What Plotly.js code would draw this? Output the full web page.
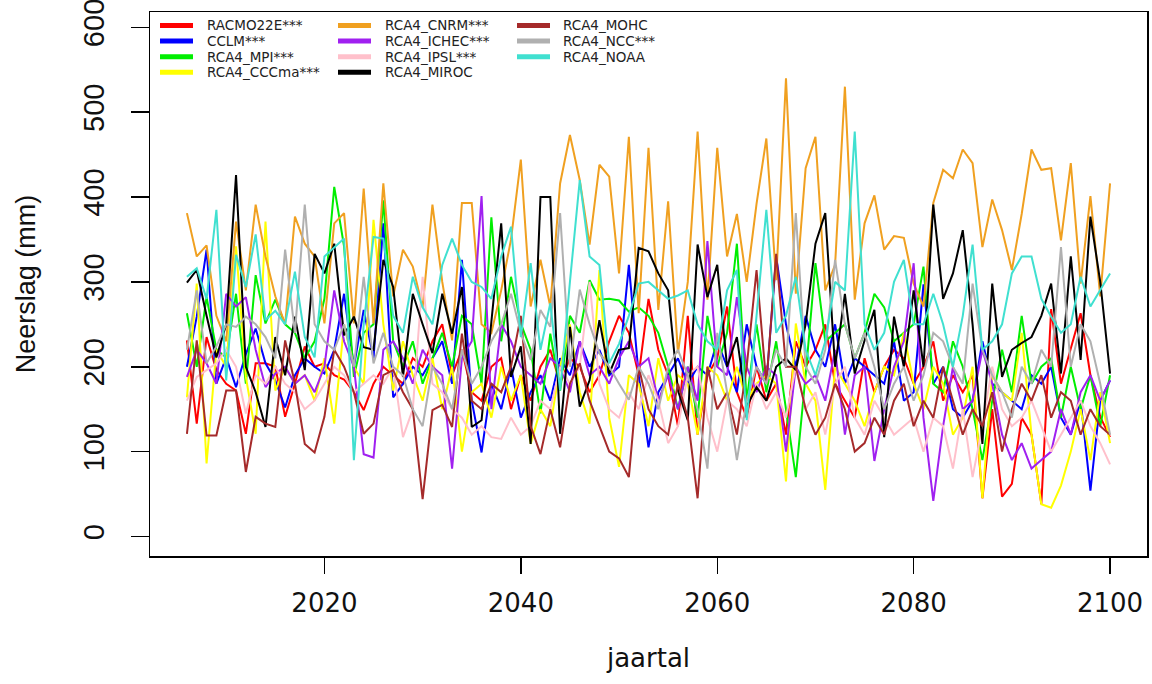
<!DOCTYPE html>
<html>
<head>
<meta charset="utf-8">
<script src="https://cdn.plot.ly/plotly-3.0.1.min.js"></script>
<style>html,body{margin:0;padding:0;background:#fff;}#chart{width:1152px;height:684px;}</style>
</head>
<body>
<div id="chart"></div>
<script>
const years = [2006,2007,2008,2009,2010,2011,2012,2013,2014,2015,2016,2017,2018,2019,2020,2021,2022,2023,2024,2025,
2026,2027,2028,2029,2030,2031,2032,2033,2034,2035,2036,2037,2038,2039,2040,2041,2042,2043,2044,2045,
2046,2047,2048,2049,2050,2051,2052,2053,2054,2055,2056,2057,2058,2059,2060,2061,2062,2063,2064,2065,
2066,2067,2068,2069,2070,2071,2072,2073,2074,2075,2076,2077,2078,2079,2080,2081,2082,2083,2084,2085,
2086,2087,2088,2089,2090,2091,2092,2093,2094,2095,2096,2097,2098,2099,2100];

const seriesNames = ["RACMO22E***","CCLM***","RCA4_MPI***","RCA4_CCCma***","RCA4_CNRM***","RCA4_ICHEC***","RCA4_IPSL***","RCA4_MIROC","RCA4_MOHC","RCA4_NCC***","RCA4_NOAA"];
const seriesColors = ["#FF0000","#0000FF","#00EE00","#FFFF00","#F0A020","#A020F0","#FFC0CB","#000000","#A52A2A","#B0B0B0","#40E0D0"];

const racmo = [231,133,235,196,180,172,121,204,204,200, 141,180,224,200,204,190,185,170,149,180,
200,190,180,210,200,230,250,190,220,170, 160,200,210,150,190,160,200,220,180,210,
200,170,190,230,260,240,190,280,220,190, 130,260,120,190,210,271,170,140,200,160,
180,120,230,200,220,250,180,160,140,210, 170,200,220,210,180,200,230,160,190,170,
190,45,150,47,62,140,120,38,268,180, 223,263,190,141,117];
const cclm = [200,259,338,180,211,176,215,245,204,184, 152,190,210,200,192,220,286,200,267,210,
369,164,180,200,190,210,230,180,326,160, 99,180,150,200,140,170,190,160,210,190,
230,200,220,190,200,320,190,105,170,190, 210,180,200,190,230,200,170,250,200,180,
330,250,200,260,220,200,250,180,210,200, 190,180,230,160,170,297,180,200,150,140,
160,230,180,170,160,150,190,180,200,140, 120,160,54,160,184];
const mpi = [263,200,282,220,211,286,180,308,251,279, 250,240,210,230,280,412,342,188,240,250,
396,230,200,230,180,210,240,200,260,250, 180,376,230,306,251,220,145,239,172,260,
240,302,279,280,278,265,270,260,240,200, 150,200,140,260,200,240,345,160,250,170,
230,150,70,190,322,230,240,250,210,240, 286,270,230,240,250,318,180,170,230,200,
150,90,160,220,170,260,180,200,210,140, 200,150,190,130,190];
const cccma = [164,298,86,220,200,342,188,121,371,172, 200,180,190,160,210,133,250,200,180,373,
250,172,230,190,160,210,150,200,100,170, 180,140,200,160,190,109,150,130,200,250,
170,133,314,140,82,190,180,130,210,160, 190,180,120,200,190,160,200,160,180,190,
180,65,251,180,160,55,200,180,160,130, 170,200,190,240,180,150,200,180,120,140,
200,45,190,170,160,240,120,38,34,60, 100,150,90,170,110];
const cnrm = [381,330,343,260,230,371,290,391,330,283, 250,377,345,330,251,369,381,251,410,251,
416,283,338,318,270,391,300,231,393,393, 250,240,290,350,444,271,326,271,416,473,
420,344,438,424,310,471,263,458,267,395, 216,300,477,279,458,330,380,300,392,469,
302,540,286,434,471,290,320,530,279,369, 402,338,354,352,298,271,393,432,422,456,
440,341,397,361,314,380,456,432,434,349, 440,298,401,283,416];
const ichec = [188,220,204,180,286,271,282,220,176,192, 200,180,190,170,200,290,230,200,97,93,
220,230,210,180,220,200,190,80,210,230, 401,150,250,230,200,190,180,210,200,170,
230,190,200,180,210,230,200,210,160,190, 150,200,160,348,200,190,282,200,170,200,
190,100,200,180,190,160,220,120,190,200, 89,150,200,230,322,140,42,130,200,150,
160,220,180,120,90,110,80,90,100,150, 120,170,190,160,184];
const ipsl = [160,188,196,204,220,200,145,190,180,200, 180,170,150,160,180,200,190,170,180,190,
180,200,117,150,306,180,170,150,140,120, 130,117,115,140,120,130,160,150,200,180,
200,300,180,150,140,170,150,190,160,110, 130,190,200,140,100,160,150,130,180,150,
170,140,200,150,170,120,180,200,140,120, 160,140,120,130,140,100,140,130,80,150,
70,130,200,150,130,140,160,130,100,120, 140,160,130,110,85];
const miroc = [299,314,260,211,250,426,200,170,129,235, 190,259,196,333,310,345,237,259,223,220,
326,294,188,286,250,216,286,239,294,129, 137,250,369,188,224,109,400,400,121,247,
153,184,255,192,220,222,340,336,310,290, 172,137,344,282,320,200,235,153,176,160,
200,210,196,250,345,381,200,286,192,231, 267,117,259,200,290,200,391,280,310,361,
250,109,298,188,220,228,235,260,298,192, 330,208,377,300,192];
const mohc = [121,231,119,119,172,172,76,141,133,129, 231,180,109,99,141,220,200,170,121,133,
190,196,170,150,44,149,155,129,239,160, 150,180,170,200,260,130,97,150,105,180,
204,160,130,100,92,70,200,150,130,120, 180,140,45,200,150,170,120,200,314,180,
333,200,200,150,120,140,180,150,100,110, 140,120,160,180,130,160,140,200,160,120,
150,130,170,100,150,180,160,190,140,170, 160,120,150,130,120];
const ncc = [220,290,204,224,250,247,259,250,235,210, 338,240,391,250,230,220,250,200,306,204,
240,200,190,150,130,200,180,150,220,180, 200,230,250,286,240,208,267,247,381,200,
291,250,216,200,180,161,200,180,150,200, 220,190,150,80,240,170,90,160,200,180,
220,200,381,200,180,220,326,250,210,240, 200,150,180,200,160,190,240,230,200,180,
298,220,190,170,140,200,180,220,200,341, 200,250,230,180,120];
const noaa = [306,316,280,385,184,332,294,356,255,266, 250,312,235,211,330,340,351,90,250,353,
351,260,240,306,270,250,320,351,320,300, 294,280,330,365,235,322,220,275,172,300,
420,330,320,204,227,260,298,300,290,280, 284,290,250,230,220,290,314,137,260,385,
240,260,306,220,190,230,300,290,477,250, 220,240,300,326,250,250,286,250,200,260,
344,220,230,250,310,330,330,280,259,240, 250,306,271,290,310];

const seriesValues = [racmo,cclm,mpi,cccma,cnrm,ichec,ipsl,miroc,mohc,ncc,noaa];
const yTicks = [0,100,200,300,400,500,600];
const xTicks = [2020,2040,2060,2080,2100];

const traces = seriesValues.map((vals,i)=>({
  x: years, y: vals, type:'scatter', mode:'lines', name: seriesNames[i],
  line:{color: seriesColors[i], width:2}, showlegend:false, hoverinfo:'skip'
}));

// plot area in pixels
const L=150, R=1147, T=12, B=556;
const px = v => (v-L)/(R-L);
const py = v => (B-v)/(B-T);

const shapes=[], annotations=[];
const colLineX=[160,338,517], colTextX=[205,383,561];
seriesNames.forEach((nm,i)=>{
  const c=Math.floor(i/4), r=i%4;
  const yy = 25.5 + 15.6*r;
  shapes.push({type:'line', xref:'paper', yref:'paper', x0:px(colLineX[c]), x1:px(colLineX[c]+33), y0:py(yy), y1:py(yy),
    line:{color:seriesColors[i], width:5}});
  annotations.push({xref:'paper', yref:'paper', x:px(colTextX[c]), y:py(yy), xanchor:'left', yanchor:'middle',
    text:nm, showarrow:false, font:{family:'DejaVu Sans, Liberation Sans, sans-serif', size:13.5, color:'#222'}});
});

const layout = {
  width:1152, height:684,
  margin:{l:L, r:1152-R, t:T, b:684-B, pad:0},
  paper_bgcolor:'#fff', plot_bgcolor:'#fff',
  showlegend:false,
  xaxis:{range:[2002.24,2103.76], tickvals:xTicks, ticktext:xTicks.map(String), ticks:'outside', ticklen:16, tickwidth:1.5, tickcolor:'#000',
    showline:true, mirror:true, linecolor:'#000', linewidth:1.5, showgrid:false, zeroline:false,
    tickfont:{family:'DejaVu Sans, Liberation Sans, sans-serif', size:26, color:'#111'}, ticklabelstandoff:7,
    title:{text:'jaartal', font:{family:'DejaVu Sans, Liberation Sans, sans-serif', size:26, color:'#111'}, standoff:32}},
  yaxis:{range:[-23,618], tickvals:yTicks, ticktext:yTicks.map(String), ticks:'outside', ticklen:18, tickwidth:1.5, tickcolor:'#000',
    tickangle:-90, showline:true, mirror:true, linecolor:'#000', linewidth:1.5, showgrid:false, zeroline:false,
    ticklabeloverflow:'allow',
    tickfont:{family:'Liberation Sans Narrow, Liberation Sans, sans-serif', size:29, color:'#111'}, ticklabelstandoff:15,
    title:{text:'Neerslag (mm)', font:{family:'Liberation Sans, Arial, sans-serif', size:27, color:'#111'}, standoff:34}},
  shapes:shapes, annotations:annotations
};

Plotly.newPlot('chart', traces, layout, {displayModeBar:false, staticPlot:true});
</script>
</body>
</html>
